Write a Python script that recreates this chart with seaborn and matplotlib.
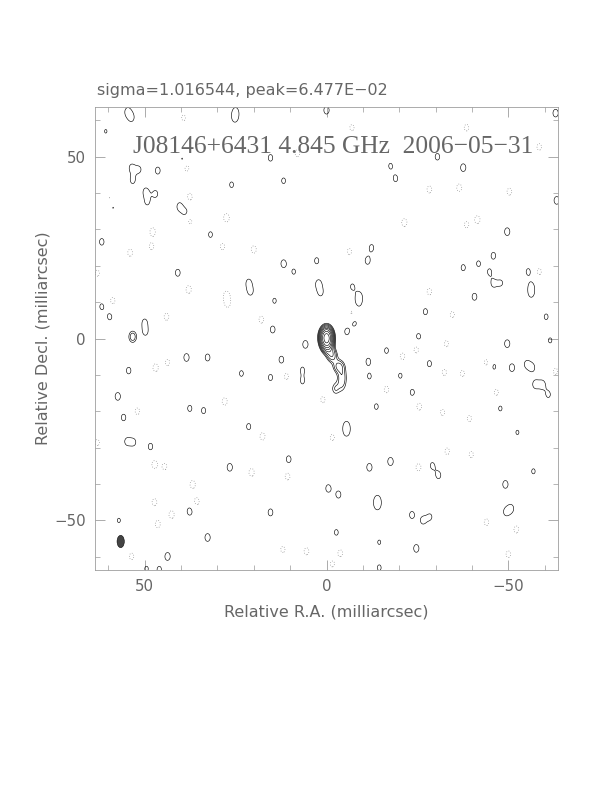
import numpy as np
import matplotlib
matplotlib.use("Agg")
import matplotlib.pyplot as plt
from matplotlib.patches import Ellipse
from matplotlib.ticker import MultipleLocator
import seaborn as sns

# image header values
sigma = 1.016544            # mJy/beam
peak = 6.477e-02            # Jy/beam
source = "J08146+6431"
freq = "4.845 GHz"
epoch = "2006-05-31"

# map half size (mas)
half = 63.7

# core + jet components, plus the one brighter field blob (mas, mJy)
comp_ra = [0.0, -0.3, -1.5, -3.2, -4.3, -2.4, 53.3]
comp_dec = [0.3, -2.0, -4.6, -7.6, -11.0, -13.8, 0.5]
comp_pk = [60.0, 12.0, 8.0, 6.0, 5.8, 4.0, 5.6]
comp_sx = [1.0, 1.0, 1.0, 1.1, 1.0, 0.9, 0.95]
comp_sy = [1.6, 1.4, 1.3, 1.3, 2.6, 1.4, 1.4]

# positive noise peaks (mas, sigma units)
pos_ra = [54.7, 53.6, 25.0, 25.2, 53.6, 53.3, 51.5, 46.4, 49.7, 47.0, 49.3, 58.8,
          40.4, 38.7, 61.8, 39.6, 15.4, 11.8, 26.1, 31.9, 11.8, 2.7, 9.0, 40.9,
          21.4, 20.9, 2.2, 1.6, 14.8, 61.8, 59.6, 50.0, 49.8, 14.3, 60.7,
          0.0, -63.0, -30.5, -17.6, -37.6, -19.0, -63.3, -49.7, -12.4, -11.3,
          -45.9, -37.6, -41.8, -44.8, -55.5, -45.9, -48.0, -7.1, -9.0, -8.8,
          -40.7, -56.3, -56.3, -27.2, -7.7, -5.6, -60.4, -25.3,
          38.5, 32.7, 54.4, 23.4, 15.4, 12.4, 5.8, 57.4, 37.6, 33.8, 55.8,
          54.9, 53.0, 48.4, 21.4, 10.4, 26.6, -0.5, 37.6, 15.4, 57.1, 32.7,
          43.7, 46.0, 49.5, 6.6, 6.6,
          -49.7, -51.0, -56.6, -55.0, -57.4, -59.4, -61.0, -61.5, -16.5, -28.3,
          -46.0, -11.5, -20.3, -11.8, -23.6, -13.7, -47.8, -5.5, -5.5, -52.5,
          -17.6, -11.8, -29.1, -30.8, -56.9, -3.3, -49.2, -14.0, -14.0, -23.5,
          -26.5, -28.5, -50.8, -49.3, -2.7, -14.5, -24.7, -14.5]
pos_dec = [62.4, 60.7, 62.5, 60.5, 47.0, 43.5, 46.5, 46.2, 40.4, 39.8, 37.5, 36.3,
           36.3, 34.6, 26.6, 49.2, 49.7, 43.4, 42.3, 28.6, 20.6, 21.4, 18.4, 18.1,
           15.4, 12.9, 15.1, 12.6, 2.5, 8.8, 6.0, 4.5, 1.8, 10.4, 57.0,
           62.8, 62.0, 50.0, 47.5, 47.0, 44.0, 38.0, 29.4, 25.0, 21.4,
           22.8, 19.5, 20.6, 18.4, 18.4, 15.1, 15.3, 14.3, 11.8, 9.8,
           11.5, 14.5, 12.3, 7.4, 4.4, 1.9, 6.0, 0.5,
           -5.2, -5.2, -8.8, -9.6, -10.7, -5.8, -1.6, -15.9, -19.2, -19.8, -21.7,
           -28.3, -28.5, -29.7, -24.2, -33.2, -35.4, -41.2, -47.5, -47.8, -50.0, -54.7,
           -59.9, -63.5, -63.3, -8.5, -11.8,
           -1.4, -8.0, -8.0, -7.0, -12.6, -12.6, -15.4, -0.5, -3.3, -6.9,
           -7.7, -6.3, -10.2, -10.4, -14.8, -18.7, -19.2, -23.8, -25.8, -25.8,
           -33.8, -35.4, -34.9, -37.6, -36.5, -42.9, -40.1, -44.2, -46.0, -48.5,
           -50.0, -49.0, -46.7, -47.7, -53.3, -56.0, -57.7, -63.0]
pos_pk = [3.8, 3.5, 3.5, 3.4, 3.6, 3.6, 3.3, 3.8, 3.8, 3.6, 3.3, 3.6,
          3.9, 3.6, 3.7, 3.5, 3.7, 3.5, 3.5, 3.5, 4.0, 3.6, 3.4, 3.8,
          3.6, 3.6, 3.9, 3.4, 3.8, 3.5, 3.6, 3.5, 3.5, 3.4, 3.2,
          4.0, 4.0, 3.7, 3.4, 4.0, 3.6, 4.0, 4.0, 3.6, 3.8,
          3.7, 3.6, 3.5, 3.4, 3.6, 3.5, 3.2, 3.4, 3.4, 3.4,
          3.8, 3.4, 3.4, 3.6, 3.7, 3.6, 3.5, 3.7,
          4.0, 3.8, 3.7, 3.5, 3.6, 3.8, 4.0, 4.0, 3.6, 3.6, 3.7,
          3.5, 3.4, 3.7, 3.6, 3.8, 4.0, 3.9, 4.0, 3.8, 3.3, 4.0,
          4.0, 3.6, 3.4, 3.3, 3.3,
          4.0, 4.0, 3.6, 3.4, 3.8, 3.8, 3.5, 3.4, 3.5, 3.6,
          3.6, 3.7, 3.4, 3.4, 3.6, 3.5, 3.4, 3.5, 3.5, 3.3,
          4.1, 4.0, 3.5, 3.7, 3.4, 3.8, 4.0, 3.5, 3.5, 3.8,
          3.7, 3.3, 3.6, 3.4, 3.5, 3.3, 4.0, 3.5]

# negative noise troughs (mas, sigma units)
neg_ra = [38.5, 37.6, 59.6, 27.5, 37.6, 47.8, 48.1, 54.0, 20.0, 28.6, 37.9, 27.5,
          27.2, 58.8, 44.0, 17.9, 63.0, 39.3, 8.0,
          -7.0, -38.5, -28.3, -36.5, -50.3, -21.4, -41.5, -38.5, -58.5, -6.3,
          -28.3, -7.0, -34.6, -58.5,
          47.0, 43.7, 28.0, 52.0, 17.6, 47.3, 44.5, 20.6, 10.7, 36.8, 35.7, 47.3,
          42.6, 46.4, 53.6, 5.5, 12.0, 63.0, 1.0, 11.0,
          -24.7, -33.0, -20.9, -44.0, -32.4, -37.4, -16.5, -46.7, -25.5, -31.9,
          -39.3, -1.6, -33.2, -39.8, -25.3, -52.2, -50.0, -3.8, -1.6, -44.0, -63.0]
neg_dec = [47.0, 39.0, 38.5, 33.2, 32.4, 29.4, 25.3, 23.6, 24.5, 25.3, 13.5, 12.0,
           9.6, 10.4, 6.0, 5.2, 18.0, 60.7, 51.0,
           58.0, 58.0, 41.0, 41.5, 40.4, 31.9, 32.7, 31.3, 52.7, 23.9,
           12.9, 7.0, 6.6, 18.4,
           -8.0, -6.6, -17.3, -20.0, -26.9, -34.6, -35.2, -36.8, -37.9, -40.1, -44.8, -45.0,
           -48.4, -51.0, -59.9, -58.5, -58.0, -28.6, -16.8, -10.4,
           -3.0, -1.4, -4.9, -6.6, -9.3, -9.6, -14.0, -14.8, -18.7, -20.3,
           -22.0, -27.2, -31.0, -31.9, -35.4, -52.5, -59.3, -59.0, -62.0, -50.5, -9.0]
neg_pk = [-4.0, -3.8, -3.6, -4.2, -3.8, -4.0, -3.6, -3.8, -3.9, -3.6, -4.0, -3.8,
          -3.6, -3.7, -3.8, -3.8, -3.6, -3.5, -3.8,
          -3.6, -3.7, -3.8, -3.9, -3.8, -4.0, -4.0, -3.6, -3.7, -3.6,
          -3.7, -3.6, -3.6, -3.6,
          -4.0, -3.6, -3.9, -3.7, -3.9, -4.0, -3.6, -4.0, -3.8, -4.0, -3.9, -3.8,
          -4.0, -3.9, -3.7, -3.8, -3.6, -3.6, -3.6, -3.6,
          -3.8, -3.6, -3.7, -3.7, -3.6, -3.6, -3.7, -3.6, -3.8, -3.6,
          -3.6, -3.6, -3.7, -3.6, -3.9, -3.8, -3.7, -3.7, -3.5, -3.7, -3.6]

# restoring beam (mas)
beam_ra, beam_dec = 56.6, -55.8
beam_min, beam_maj = 2.0, 3.4

# contour levels: -3, 3 x sqrt(2)^n sigma
n_steps = [0, 1, 2, 3, 4, 5, 6, 7, 8]

sns.set_theme(style="ticks")
plt.rcParams["font.family"] = ["DejaVu Sans"]

grid = np.arange(-half - 1, half + 1, 0.2)
X, Y = np.meshgrid(grid, grid)
Z = np.zeros_like(X)
noise_sx, noise_sy = 0.95, 1.4
for ra, dec, pk, sx, sy in zip(comp_ra, comp_dec, comp_pk, comp_sx, comp_sy):
    Z += pk * np.exp(-((X - ra) ** 2 / (2 * sx ** 2) + (Y - dec) ** 2 / (2 * sy ** 2)))
noise = np.zeros_like(X)
for ra, dec, pk in zip(pos_ra + neg_ra, pos_dec + neg_dec, pos_pk + neg_pk):
    noise += pk * sigma * np.exp(-((X - ra) ** 2 / (2 * noise_sx ** 2) + (Y - dec) ** 2 / (2 * noise_sy ** 2)))
# field noise never reaches the second contour
Z += np.clip(noise, -4.1 * sigma, 4.1 * sigma)

pos_levels = [3 * sigma * np.sqrt(2) ** n for n in n_steps]
neg_levels = [-3 * sigma]

fig = plt.figure(figsize=(8.5, 11), dpi=72)
ax = fig.add_axes([0.155, 0.278, 0.757, 0.589])

ax.contour(X, Y, Z, levels=pos_levels, colors="black", linewidths=0.6)
ax.contour(X, Y, Z, levels=neg_levels, colors="#777777", linewidths=0.7,
           linestyles=[(0, (1, 2.5))])

ax.add_patch(Ellipse((beam_ra, beam_dec), beam_min, beam_maj,
                     facecolor="#444444", edgecolor="black", linewidth=0.5))

ax.set_xlim(half, -half)
ax.set_ylim(-half, half)
ax.set_aspect("equal")

grey = "#666666"
for sp in ax.spines.values():
    sp.set_color("#999999")
    sp.set_linewidth(0.8)
ax.xaxis.set_major_locator(MultipleLocator(50))
ax.yaxis.set_major_locator(MultipleLocator(50))
ax.xaxis.set_minor_locator(MultipleLocator(10))
ax.yaxis.set_minor_locator(MultipleLocator(10))
ax.tick_params(which="both", direction="in", top=True, right=True,
               color="#999999", labelcolor=grey, labelsize=15)
ax.tick_params(which="major", length=10, width=0.8, pad=9)
ax.tick_params(which="minor", length=5, width=0.7)
ax.xaxis.set_major_formatter(plt.FuncFormatter(lambda v, p: f"{v:.0f}".replace("-", "\u2212")))
ax.yaxis.set_major_formatter(plt.FuncFormatter(lambda v, p: f"{v:.0f}".replace("-", "\u2212")))

ax.set_xlabel("Relative R.A. (milliarcsec)", color=grey, fontsize=16, labelpad=10)
ax.set_ylabel("Relative Decl. (milliarcsec)", color=grey, fontsize=16, labelpad=4)

fig.text(97 / 612, 1 - 90 / 792, f"sigma={sigma:.6f}, peak={peak:.3E}".replace("E-", "E\u2212"),
         color=grey, fontsize=16, ha="left", va="center")
ax.text(0.514, 0.914, f"{source} {freq}  {epoch}".replace("-", "\u2212"),
        transform=ax.transAxes, family="Liberation Serif", fontsize=25.5,
        color=grey, ha="center", va="center")

fig.savefig("out.png", dpi=72, facecolor="white")
